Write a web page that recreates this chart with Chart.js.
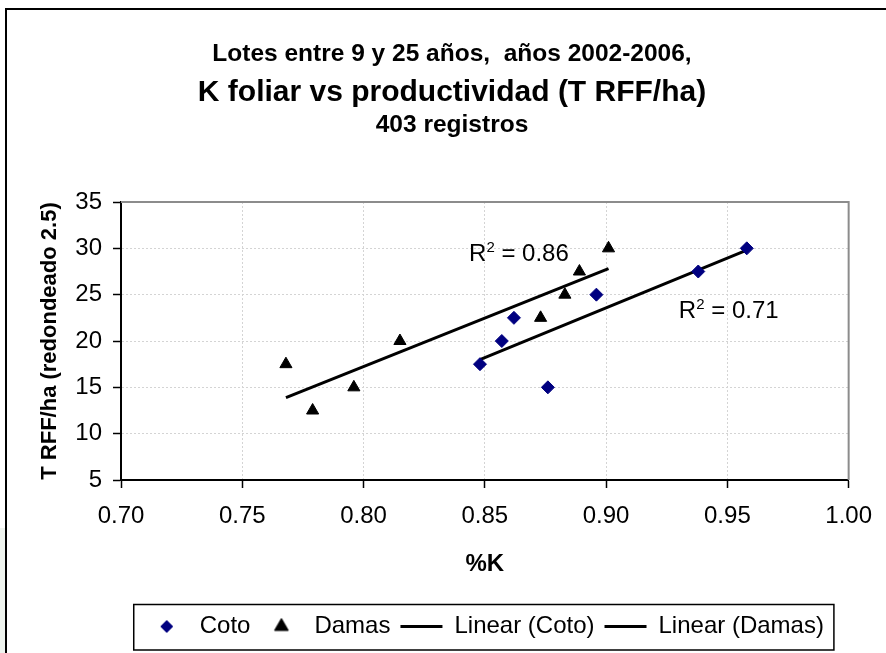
<!DOCTYPE html>
<html lang="es">
<head>
<meta charset="utf-8">
<title>K foliar vs productividad</title>
<script src="https://cdn.jsdelivr.net/npm/chart.js@4.4.1/dist/chart.umd.min.js"></script>
<style>
    html, body { margin: 0; padding: 0; background: #fff; overflow: hidden; }
    #wrap { position: relative; width: 886px; height: 653px; }
    #marco { position: absolute; left: 5px; top: 8px; width: 900px; height: 700px;
             border-left: 2px solid #000; border-top: 2px solid #000; }
    #franja { position: absolute; left: 0; top: 528px; width: 5px; height: 125px; background: #eef3ee; }
    #kChart { position: absolute; left: 0; top: 0; }
</style>
</head>
<body>
<div id="wrap">
    <div id="franja"></div>
    <div id="marco"></div>
    <canvas id="kChart" width="886" height="653"></canvas>
</div>
<script>
// Datos
const cotoK = [0.848, 0.857, 0.862, 0.876, 0.896, 0.938, 0.958];
const cotoT = [17.5, 20, 22.5, 15, 25, 27.5, 30];
const damasK = [0.768, 0.779, 0.796, 0.815, 0.873, 0.883, 0.889, 0.901];
const damasT = [17.5, 12.5, 15, 20, 22.5, 25, 27.5, 30];

// Extremos de las lineas de tendencia (Excel)
const cotoTrendK = [0.848, 0.958];
const cotoTrendT = [18.0, 29.8];
const damasTrendK = [0.768, 0.901];
const damasTrendT = [13.9, 27.8];

// Etiquetas R2
const r2Text = ['0.86', '0.71'];
const r2K = [0.8435, 0.930];
const r2T = [29.6, 23.35];

const titleLines = [
    'Lotes entre 9 y 25 años,  años 2002-2006,',
    'K foliar vs productividad (T RFF/ha)',
    '403 registros'
];

const FONT = "'Liberation Sans', Arial, sans-serif";

function toPoints(xs, ys) {
    return xs.map((x, i) => ({ x: x, y: ys[i] }));
}

// Marcador pequeño para la leyenda (mismo dibujo que usa Chart.js)
function legendMarker(style, radius, color) {
    const c = document.createElement('canvas');
    const size = Math.ceil(radius * 2 + 2);
    c.width = size;
    c.height = size;
    const g = c.getContext('2d');
    g.fillStyle = color;
    g.strokeStyle = color;
    g.lineWidth = 1;
    Chart.helpers.drawPoint(g, { pointStyle: style, radius: radius, borderWidth: 1, rotation: 0 }, size / 2, size / 2);
    return c;
}

// Titulo de tres lineas con tamaños distintos
const titlePlugin = {
    id: 'titleLines',
    afterDraw(chart) {
        const ctx = chart.ctx;
        const sizes = [24.5, 30, 24.5];
        const baselines = [60.5, 100.5, 131.5];
        ctx.save();
        ctx.fillStyle = '#000';
        ctx.textAlign = 'center';
        ctx.textBaseline = 'alphabetic';
        titleLines.forEach((t, i) => {
            ctx.font = 'bold ' + sizes[i] + 'px ' + FONT;
            ctx.fillText(t, 452, baselines[i]);
        });
        ctx.restore();
    }
};

// Borde gris superior y derecho del area de trazado
const framePlugin = {
    id: 'plotFrame',
    beforeDatasetsDraw(chart) {
        const a = chart.chartArea;
        const ctx = chart.ctx;
        ctx.save();
        ctx.strokeStyle = '#8c8c8c';
        ctx.lineWidth = 2;
        ctx.beginPath();
        ctx.moveTo(a.left, a.top);
        ctx.lineTo(a.right, a.top);
        ctx.lineTo(a.right, a.bottom);
        ctx.stroke();
        ctx.restore();
    }
};

// Textos R2 junto a las tendencias
const r2Plugin = {
    id: 'r2Labels',
    afterDatasetsDraw(chart) {
        const ctx = chart.ctx;
        const xs = chart.scales.x;
        const ys = chart.scales.y;
        ctx.save();
        ctx.fillStyle = '#000';
        ctx.textAlign = 'left';
        ctx.textBaseline = 'alphabetic';
        r2Text.forEach((val, i) => {
            let px = xs.getPixelForValue(r2K[i]);
            const py = ys.getPixelForValue(r2T[i]) + 8.5;
            ctx.font = '24px ' + FONT;
            ctx.fillText('R', px, py);
            px += ctx.measureText('R').width;
            ctx.font = '15px ' + FONT;
            ctx.fillText('2', px, py - 9);
            px += ctx.measureText('2').width;
            ctx.font = '24px ' + FONT;
            ctx.fillText(' = ' + val, px, py);
        });
        ctx.restore();
    }
};

// Recuadro de la leyenda
const legendBoxPlugin = {
    id: 'legendBox',
    afterDraw(chart) {
        const lg = chart.legend;
        if (!lg || !lg.legendHitBoxes.length) return;
        const boxes = lg.legendHitBoxes;
        const last = boxes[boxes.length - 1];
        const left = boxes[0].left - 12;
        const right = last.left + last.width + 10;
        const ctx = chart.ctx;
        ctx.save();
        ctx.strokeStyle = '#000';
        ctx.lineWidth = 1.5;
        ctx.strokeRect(left, lg.top, right - left, lg.bottom - lg.top + 1.5);
        ctx.restore();
    }
};

function createChart() {
    const ctx = document.getElementById('kChart').getContext('2d');

    const cotoMarker = legendMarker('rectRot', 6, '#000080');
    const damasMarker = legendMarker('triangle', 8, '#000');

    new Chart(ctx, {
        type: 'scatter',
        data: {
            datasets: [
                {
                    label: 'Coto',
                    data: toPoints(cotoK, cotoT),
                    pointStyle: 'rectRot',
                    pointRadius: 6.5,
                    pointHoverRadius: 6.5,
                    backgroundColor: '#000080',
                    borderColor: '#000080',
                    borderWidth: 1
                },
                {
                    label: 'Damas',
                    data: toPoints(damasK, damasT),
                    pointStyle: 'triangle',
                    pointRadius: 7,
                    pointHoverRadius: 7,
                    backgroundColor: '#000',
                    borderColor: '#000',
                    borderWidth: 1
                },
                {
                    label: 'Linear (Coto)',
                    data: toPoints(cotoTrendK, cotoTrendT),
                    showLine: true,
                    pointStyle: 'line',
                    pointRadius: 0,
                    borderColor: '#000',
                    backgroundColor: '#000',
                    borderWidth: 3
                },
                {
                    label: 'Linear (Damas)',
                    data: toPoints(damasTrendK, damasTrendT),
                    showLine: true,
                    pointStyle: 'line',
                    pointRadius: 0,
                    borderColor: '#000',
                    backgroundColor: '#000',
                    borderWidth: 3
                }
            ]
        },
        options: {
            responsive: false,
            animation: false,
            layout: {
                padding: { top: 202, right: 36, bottom: 4.5, left: 0 }
            },
            scales: {
                x: {
                    type: 'linear',
                    min: 0.70,
                    max: 1.00,
                    afterFit(scale) { scale.height = 124.5; },
                    ticks: {
                        stepSize: 0.05,
                        color: '#000',
                        padding: 14,
                        font: { family: FONT, size: 24 },
                        callback: v => v.toFixed(2)
                    },
                    grid: {
                        color: '#d4d4d4',
                        lineWidth: 1,
                        tickColor: '#000',
                        tickLength: 8,
                        tickWidth: 1.5
                    },
                    border: { color: '#000', width: 2, dash: [2, 2] },
                    title: {
                        display: true,
                        text: '%K',
                        color: '#000',
                        font: { family: FONT, size: 24, weight: 'bold' },
                        padding: { top: 0, bottom: 26 }
                    }
                },
                y: {
                    min: 5,
                    max: 35,
                    afterFit(scale) { scale.width = 121; },
                    ticks: {
                        stepSize: 5,
                        color: '#000',
                        padding: 11,
                        font: { family: FONT, size: 24 }
                    },
                    grid: {
                        color: '#d4d4d4',
                        lineWidth: 1,
                        tickColor: '#000',
                        tickLength: 8,
                        tickWidth: 1.5
                    },
                    border: { color: '#000', width: 2, dash: [2, 2] },
                    title: {
                        display: true,
                        text: 'T RFF/ha (redondeado 2.5)',
                        color: '#000',
                        font: { family: FONT, size: 22, weight: 'bold' },
                        padding: { top: 37, bottom: 0 }
                    }
                }
            },
            plugins: {
                legend: {
                    position: 'bottom',
                    fullSize: false,
                    labels: {
                        color: '#000',
                        usePointStyle: true,
                        pointStyleWidth: 42,
                        boxHeight: 10,
                        padding: 10,
                        font: { family: FONT, size: 24 },
                        generateLabels(chart) {
                            const items = Chart.defaults.plugins.legend.labels.generateLabels(chart);
                            items[0].pointStyle = cotoMarker;
                            items[1].pointStyle = damasMarker;
                            return items;
                        }
                    }
                },
                tooltip: { enabled: false }
            }
        },
        plugins: [framePlugin, r2Plugin, titlePlugin, legendBoxPlugin]
    });
}

document.addEventListener('DOMContentLoaded', createChart);
</script>
</body>
</html>
